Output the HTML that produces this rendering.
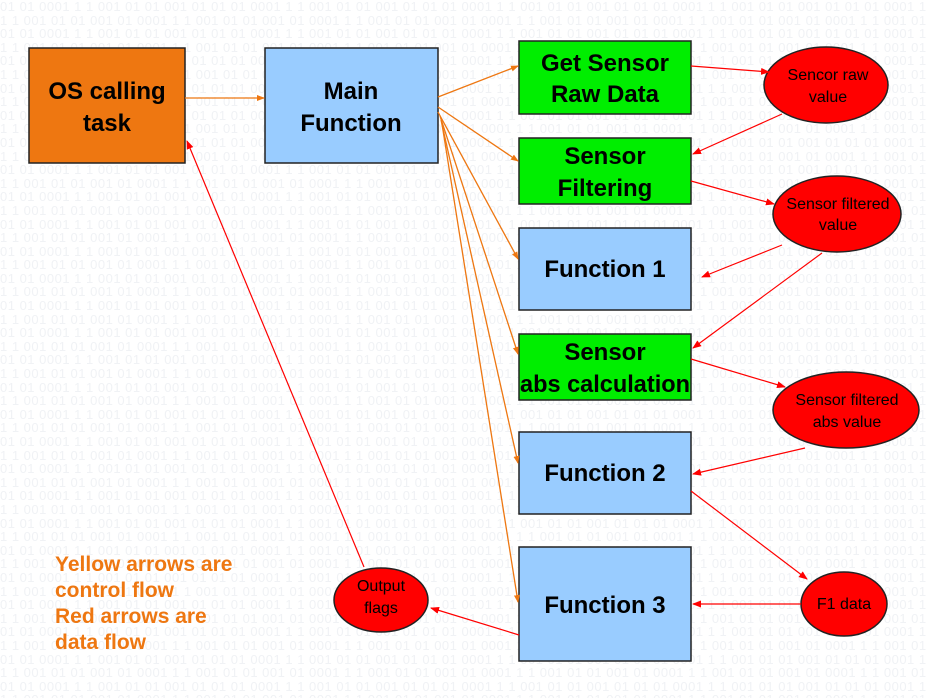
<!DOCTYPE html>
<html><head><meta charset="utf-8"><style>
body{margin:0;width:930px;height:698px;overflow:hidden;background:#fff;position:relative;font-family:"Liberation Sans",sans-serif}
#bg{position:absolute;left:0;top:0;width:930px;height:698px;color:#f0f2f5;font-size:13px;line-height:13.6px;white-space:nowrap;overflow:hidden;letter-spacing:0.5px}
svg{position:absolute;left:0;top:0}
</style></head><body>
<div id="bg">
<script>
var s="";var a="01 01 0001 1 1 001 01 01 001 01 ";var b="1 1 001 01 01 001 01 0001 ";
for(var i=0;i<52;i++){var t=(i%2?b:a);var l="";for(var j=0;j<8;j++)l+=t;s+=l+"<br>";}
document.getElementById("bg").innerHTML=s;
</script>
</div>
<svg width="930" height="698" viewBox="0 0 930 698">
<defs>
<marker id="o" markerWidth="8" markerHeight="8" refX="7" refY="4" orient="auto" markerUnits="userSpaceOnUse"><path d="M0,1 L8,4 L0,7z" fill="#ee7711"/></marker>
<marker id="r" markerWidth="9" markerHeight="8" refX="8" refY="4" orient="auto" markerUnits="userSpaceOnUse"><path d="M0,0.5 L9,4 L0,7.5z" fill="#ff0000"/></marker>
</defs>
<g stroke="#222" stroke-width="1.5">
<rect x="29" y="48" width="156" height="115" fill="#ee7711"/>
<rect x="265" y="48" width="173" height="115" fill="#99ccff"/>
<rect x="519" y="41" width="172" height="73" fill="#00ee00"/>
<rect x="519" y="138" width="172" height="66" fill="#00ee00"/>
<rect x="519" y="228" width="172" height="82" fill="#99ccff"/>
<rect x="519" y="334" width="172" height="66" fill="#00ee00"/>
<rect x="519" y="432" width="172" height="82" fill="#99ccff"/>
<rect x="519" y="547" width="172" height="114" fill="#99ccff"/>
<ellipse cx="826" cy="85" rx="62" ry="38" fill="#ff0000"/>
<ellipse cx="837" cy="214" rx="64" ry="38" fill="#ff0000"/>
<ellipse cx="846" cy="410" rx="73" ry="38" fill="#ff0000"/>
<ellipse cx="844" cy="604" rx="43" ry="32" fill="#ff0000"/>
<ellipse cx="381" cy="600" rx="47" ry="32" fill="#ff0000"/>
</g>
<g stroke="#ee7711" stroke-width="1.3" fill="none" marker-end="url(#o)">
<line x1="185" y1="98" x2="264" y2="98"/>
<line x1="438" y1="97" x2="518" y2="66"/>
<line x1="438" y1="107" x2="518" y2="161"/>
<line x1="438" y1="112" x2="518" y2="259"/>
<line x1="440" y1="116" x2="518" y2="354"/>
<line x1="441" y1="120" x2="518" y2="463"/>
<line x1="442" y1="124" x2="518" y2="602"/>
</g>
<g stroke="#ff0000" stroke-width="1.2" fill="none" marker-end="url(#r)">
<line x1="691" y1="66" x2="769" y2="72"/>
<line x1="782" y1="114" x2="693" y2="154"/>
<line x1="691" y1="181" x2="774" y2="204"/>
<line x1="782" y1="245" x2="702" y2="277"/>
<line x1="822" y1="253" x2="693" y2="348"/>
<line x1="691" y1="359" x2="785" y2="387"/>
<line x1="805" y1="448" x2="693" y2="474"/>
<line x1="691" y1="491" x2="807" y2="579"/>
<line x1="801" y1="604" x2="693" y2="604"/>
<line x1="519" y1="635" x2="431" y2="608"/>
<line x1="364" y1="567" x2="187" y2="141"/>
</g>
<g font-family="Liberation Sans,sans-serif" font-size="24" font-weight="bold" text-anchor="middle" fill="#000">
<text x="107" y="99">OS calling</text><text x="107" y="131">task</text>
<text x="351" y="99">Main</text><text x="351" y="131">Function</text>
<text x="605" y="71">Get Sensor</text><text x="605" y="102">Raw Data</text>
<text x="605" y="164">Sensor</text><text x="605" y="196">Filtering</text>
<text x="605" y="277">Function 1</text>
<text x="605" y="360">Sensor</text><text x="605" y="392" textLength="170" lengthAdjust="spacingAndGlyphs">abs calculation</text>
<text x="605" y="481">Function 2</text>
<text x="605" y="613">Function 3</text>
</g>
<g font-family="Liberation Sans,sans-serif" font-size="16" text-anchor="middle" fill="#000">
<text x="828" y="80">Sencor raw</text><text x="828" y="102">value</text>
<text x="838" y="209">Sensor filtered</text><text x="838" y="230">value</text>
<text x="847" y="405">Sensor filtered</text><text x="847" y="427">abs value</text>
<text x="844" y="609">F1 data</text>
<text x="381" y="591">Output</text><text x="381" y="613">flags</text>
</g>
<g font-family="Liberation Sans,sans-serif" font-size="21" font-weight="bold" fill="#ee7711">
<text x="55" y="571">Yellow arrows are</text>
<text x="55" y="597">control flow</text>
<text x="55" y="623">Red arrows are</text>
<text x="55" y="649">data flow</text>
</g>
</svg>
</body></html>
